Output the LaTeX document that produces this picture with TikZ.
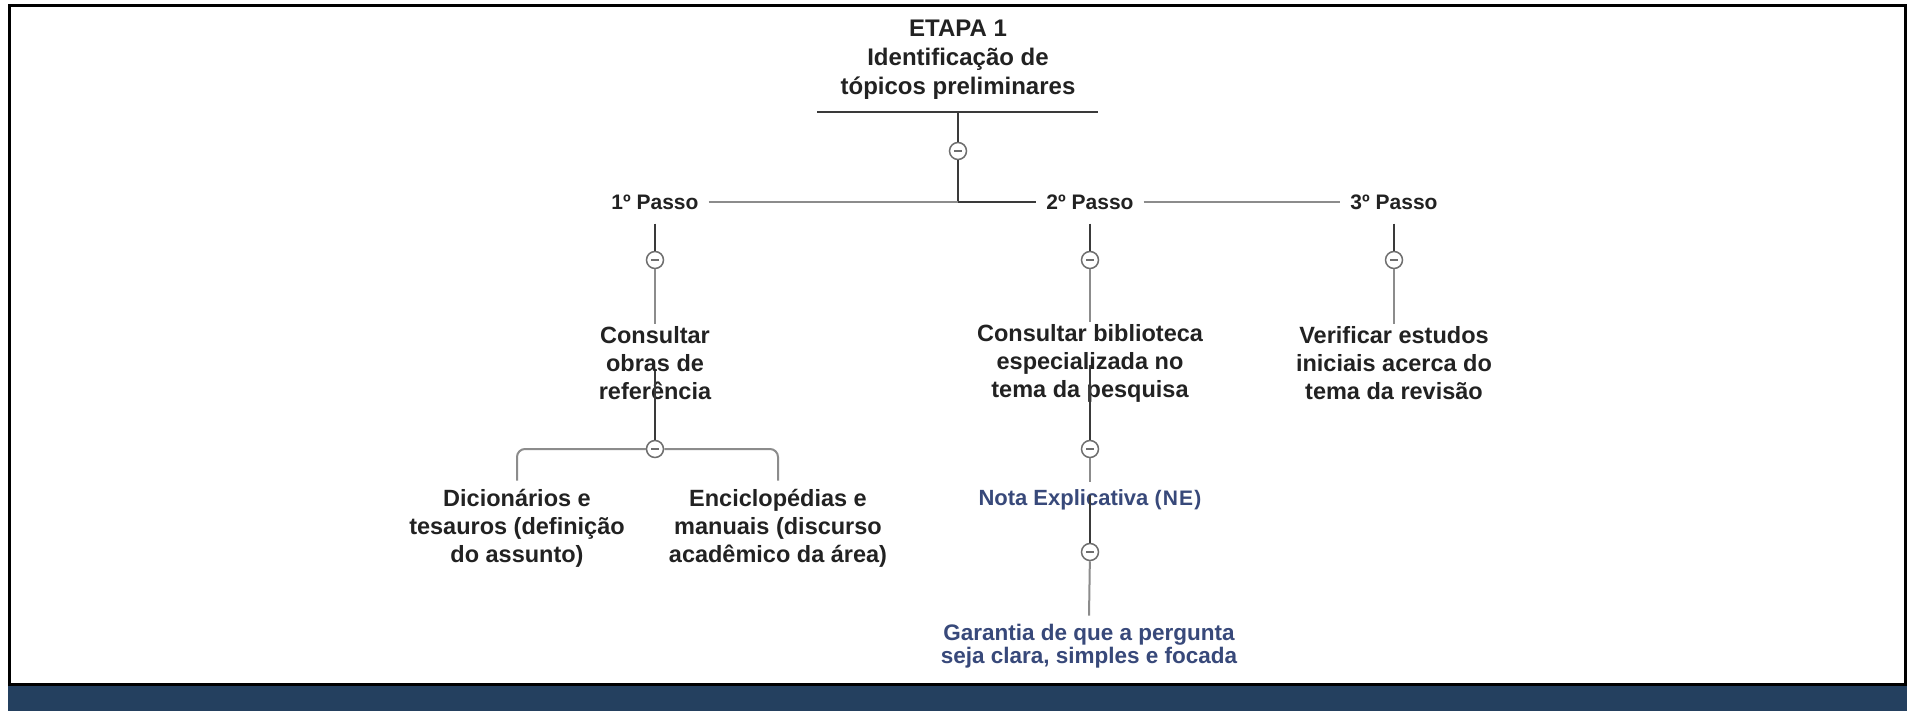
\documentclass[tikz,border=0pt]{standalone}
\usepackage{fontspec}
\setmainfont{Liberation Sans}
\usetikzlibrary{calc}
\definecolor{navy}{HTML}{24405F}
\definecolor{darkln}{HTML}{3A3A3A}
\definecolor{grayln}{HTML}{8C8C8C}
\definecolor{txt}{HTML}{222222}
\definecolor{bluetxt}{HTML}{38497A}
\definecolor{circln}{HTML}{6E6E6E}
\begin{document}
\begin{tikzpicture}[x=1pt,y=-1pt,
  lbl/.style={font=\bfseries\fontsize{23.5}{28}\selectfont, text=txt, align=center, inner sep=2pt},
  bluelbl/.style={font=\bfseries\fontsize{22.5}{23.5}\selectfont, text=bluetxt, align=center, inner sep=2pt},
  passo/.style={font=\bfseries\fontsize{21}{25}\selectfont, text=txt, inner xsep=10pt, inner ysep=2pt},
  dk/.style={draw=darkln, line width=2.2pt},
  gy/.style={draw=grayln, line width=2pt},
  mc/.style={circle, draw=circln, fill=white, line width=1.5pt, minimum size=17pt, inner sep=0pt,
    path picture={\draw[circln, line width=1.5pt] ([xshift=-4pt]path picture bounding box.center) -- ([xshift=4pt]path picture bounding box.center);}},
]
\useasboundingbox (0,0) rectangle (1908,711);
\fill[white] (0,0) rectangle (1908,711);
\fill[navy] (8,686) rectangle (1907,711);
\draw[line width=3pt] (9.5,5.5) rectangle (1905.5,684.5);

% nodes
\node[lbl, font=\bfseries\fontsize{24}{29}\selectfont] (etapa) at (958,60) {ETAPA 1\\Identificação de\\tópicos preliminares};
\coordinate (ulL) at (817,112);
\coordinate (ulR) at (1098,112);
\coordinate (ul) at (958,112);
\node[mc] (c0) at (958,151) {};
\coordinate (j0) at (958,202);

\node[passo] (p1) at (655,202) {1º Passo};
\node[passo] (p2) at (1090,202) {2º Passo};
\node[passo] (p3) at (1394,202) {3º Passo};

\node[mc] (c1) at (655,260) {};
\node[mc] (c2) at (1090,260) {};
\node[mc] (c3) at (1394,260) {};

\node[lbl] (t1) at (655,363) {Consultar\\obras de\\referência};
\node[lbl] (t2) at (1090,363) {Consultar biblioteca\\especializada no\\tema da pesquisa};
\node[lbl] (t3) at (1394,363) {Verificar estudos\\iniciais acerca do\\tema da revisão};

\node[mc] (c4) at (655,449) {};
\node[mc] (c5) at (1090,449) {};

\node[lbl] (d1) at (517,528) {Dicionários e\\tesauros (definição\\do assunto)};
\node[lbl] (d2) at (778,528) {Enciclopédias e\\manuais (discurso\\acadêmico da área)};

\node[bluelbl, font=\bfseries\fontsize{22}{26}\selectfont] (ne) at (1090,500) {Nota Explicativa {\fontsize{21}{24}\selectfont\addfontfeature{LetterSpace=6}(NE)}};
\node[mc] (c6) at (1090,552) {};
\node[bluelbl] (ga) at (1089,646) {Garantia de que a pergunta\\seja clara, simples e focada};

% connectors
\draw[dk, line width=2.5pt] (ulL) -- (ulR);
\draw[dk, line width=2.5pt] (ul) -- (c0);
\draw[dk, line width=2.5pt] (c0) -- (j0) -- (p2.west);
\draw[gy] (p1.east) -- (j0);
\draw[gy] (p2.east) -- (p3.west);

\draw[dk] ($(p1.south)+(0,12)$) -- (c1);
\draw[dk] ($(p2.south)+(0,12)$) -- (c2);
\draw[dk] ($(p3.south)+(0,12)$) -- (c3);
\draw[gy] (c1) -- (t1.north);
\draw[gy] (c2) -- (t2.north);
\draw[gy] (c3) -- (t3.north);

\draw[dk] ($(t1.center)+(0,8)$) -- (c4);
\draw[gy, rounded corners=8pt] (c4) -- (d1.north |- c4) -- ($(d1.north)+(0,-6)$);
\draw[gy, rounded corners=8pt] (c4) -- (d2.north |- c4) -- ($(d2.north)+(0,-6)$);

\draw[dk] ($(t2.center)+(0,2)$) -- (c5);
\draw[gy] (c5) -- ($(ne.north)+(0,-6)$);
\draw[dk] ($(ne.center)+(0,-5)$) -- (c6);
\draw[gy] (c6) -- ($(ga.north)+(0,-6)$);
\end{tikzpicture}
\end{document}
